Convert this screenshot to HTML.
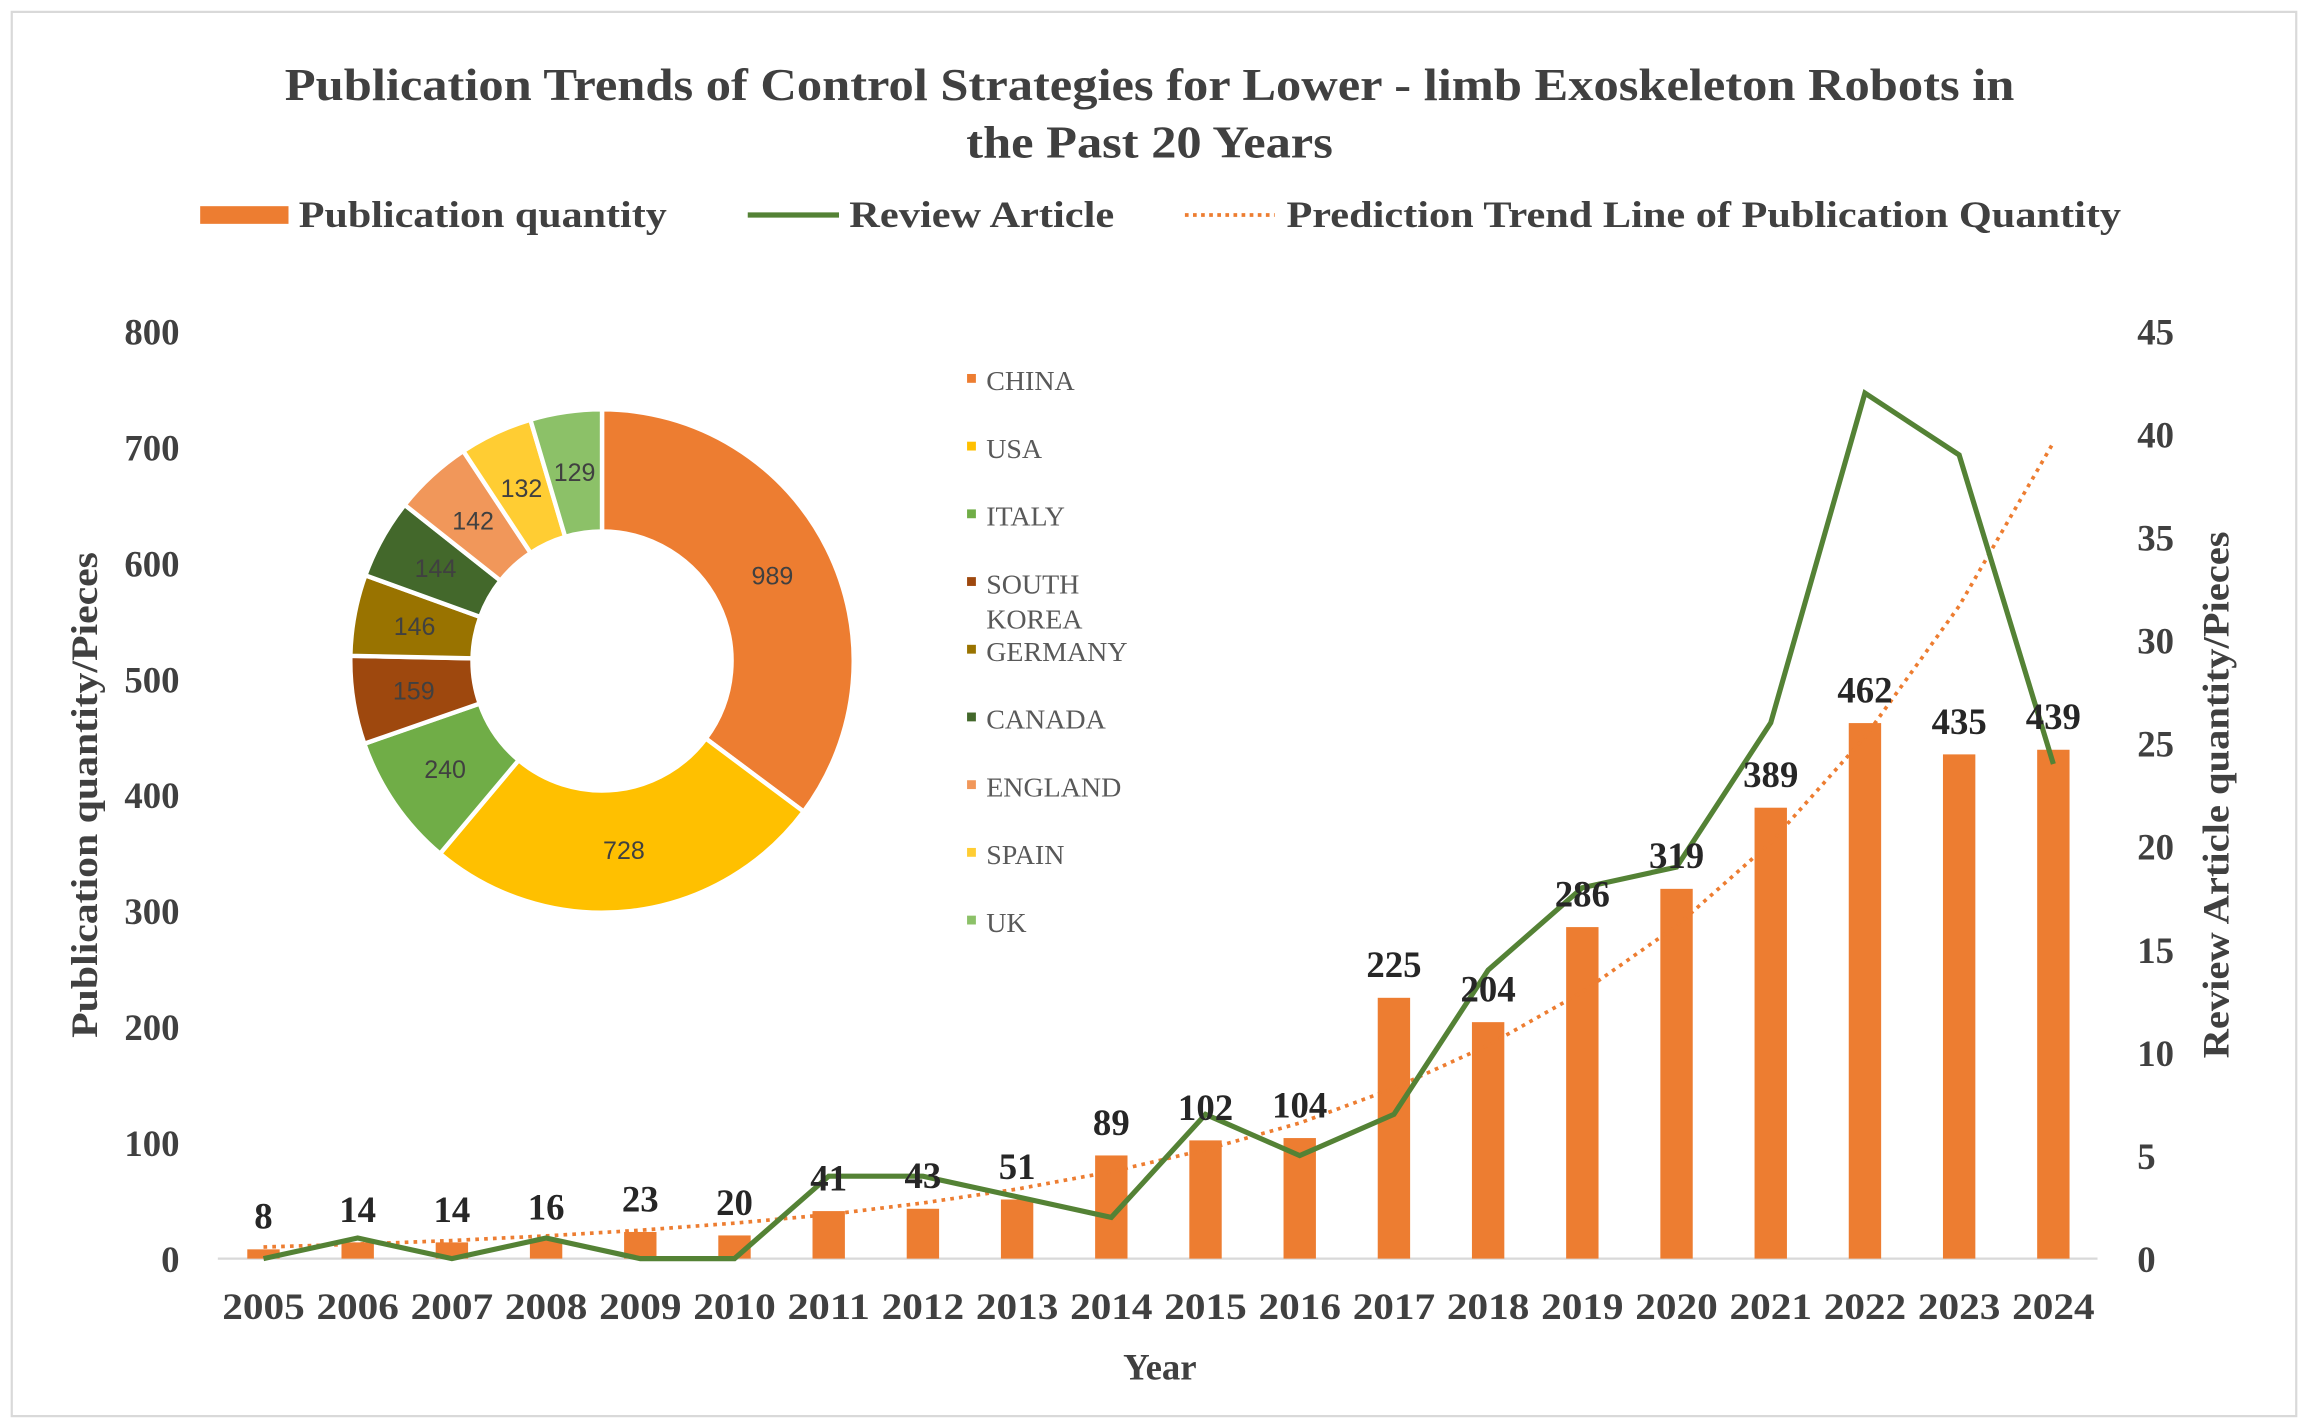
<!DOCTYPE html>
<html><head><meta charset="utf-8"><style>
html,body{margin:0;padding:0;background:#fff;}
svg{display:block;}
text{font-family:"Liberation Serif",serif;}
</style></head><body>
<svg id="chart" width="2308" height="1428" viewBox="0 0 1568 970" xmlns="http://www.w3.org/2000/svg">
<rect x="8" y="8" width="1552" height="954" fill="#fff" stroke="#d9d9d9" stroke-width="1.5"/>
<text x="781" y="68" text-anchor="middle" font-size="31" font-weight="bold" fill="#404040" textLength="1175" lengthAdjust="spacingAndGlyphs">Publication Trends of Control Strategies for Lower - limb Exoskeleton Robots in</text>
<text x="781" y="107" text-anchor="middle" font-size="31" font-weight="bold" fill="#404040" textLength="249" lengthAdjust="spacingAndGlyphs">the Past 20 Years</text>
<g>
<rect x="136" y="140" width="60" height="12" fill="#ED7D31"/>
<text x="203" y="154" font-size="25" font-weight="bold" fill="#404040" textLength="250" lengthAdjust="spacingAndGlyphs">Publication quantity</text>
<line x1="508" y1="146" x2="570" y2="146" stroke="#548235" stroke-width="3.5"/>
<text x="577" y="154" font-size="25" font-weight="bold" fill="#404040" textLength="180" lengthAdjust="spacingAndGlyphs">Review Article</text>
<line x1="805" y1="146" x2="866" y2="146" stroke="#ED7D31" stroke-width="2.5" stroke-dasharray="2.5,3"/>
<text x="874" y="154" font-size="25" font-weight="bold" fill="#404040" textLength="567" lengthAdjust="spacingAndGlyphs">Prediction Trend Line of Publication Quantity</text>
</g>
<g id="axes"></g>
<g id="bars"></g>
<g id="trend"></g>
<g id="line"></g>
<g id="labels"></g>
<g id="donut"></g>
<g id="donutLegend"></g>
<text transform="translate(66,540) rotate(-90)" text-anchor="middle" font-size="25" font-weight="bold" fill="#404040" textLength="330" lengthAdjust="spacingAndGlyphs">Publication quantity/Pieces</text>
<text transform="translate(1514,540) rotate(-90)" text-anchor="middle" font-size="25" font-weight="bold" fill="#404040" textLength="358" lengthAdjust="spacingAndGlyphs">Review Article quantity/Pieces</text>
<text x="788" y="937" text-anchor="middle" font-size="25" font-weight="bold" fill="#404040">Year</text>
</svg>
<script>
const years = ["2005","2006","2007","2008","2009","2010","2011","2012","2013","2014","2015","2016","2017","2018","2019","2020","2021","2022","2023","2024"];
const publications = [8,14,14,16,23,20,41,43,51,89,102,104,225,204,286,319,389,462,435,439];
const reviews = [0,1,0,1,0,0,4,4,3,2,7,5,7,14,18,19,26,42,39,24];
const trendValues = [10,12.5,15.6,19.6,24.5,30.6,38,48,60,75,94,117,147,184,230,287,359,450,563,704];
const leftTicks = [0,100,200,300,400,500,600,700,800];
const rightTicks = [0,5,10,15,20,25,30,35,40,45];
const countries = ["CHINA","USA","ITALY","SOUTH KOREA","GERMANY","CANADA","ENGLAND","SPAIN","UK"];
const countryCounts = [989,728,240,159,146,144,142,132,129];
const countryColors = ["#ED7D31","#FFC000","#70AD47","#9E480E","#997300","#43682B","#F1975A","#FFCD33","#8CC168"];

const NS="http://www.w3.org/2000/svg";
function mk(tag, attrs, parent, txt){const e=document.createElementNS(NS,tag);for(const k in attrs)e.setAttribute(k,attrs[k]);if(txt!==undefined)e.textContent=txt;parent.appendChild(e);return e;}
const x0=179, dx=64, yBase=855, yTop=225;
const xs=i=>x0+i*dx;
const yL=v=>yBase-(v/800)*(yBase-yTop);
const yR=v=>yBase-(v/45)*(yBase-yTop);

const axes=document.getElementById('axes');
let e=mk('line',{x1:148,y1:yBase,x2:1425,y2:yBase,stroke:'#d9d9d9','stroke-width':1.5},axes);


leftTicks.forEach(t=>{
  const el=mk('text',{x:122,y:yL(t)+9,'text-anchor':'end','font-size':25,'font-weight':'bold',fill:'#404040'},axes,String(t));
  
  
});
rightTicks.forEach(t=>{
  const el=mk('text',{x:1452,y:yR(t)+9,'font-size':25,'font-weight':'bold',fill:'#404040'},axes,String(t));
  
  
});
years.forEach((y,i)=>{
  const el=mk('text',{x:xs(i),y:896,'text-anchor':'middle','font-size':25,'font-weight':'bold',fill:'#404040',textLength:56,lengthAdjust:'spacingAndGlyphs'},axes,y);
  
  
});

const bars=document.getElementById('bars');
publications.forEach((v,i)=>{
  const el=mk('rect',{x:xs(i)-11,y:yL(v),width:22,height:yBase-yL(v),fill:'#ED7D31'},bars);
  
  
});

const trend=document.getElementById('trend');
const tp=trendValues.map((v,i)=>xs(i)+','+yL(v)).join(' ');
e=mk('polyline',{points:tp,fill:'none',stroke:'#ED7D31','stroke-width':2.5,'stroke-dasharray':'2.5,3.5'},trend);



const line=document.getElementById('line');
const lp=reviews.map((v,i)=>xs(i)+','+yR(v)).join(' ');
e=mk('polyline',{points:lp,fill:'none',stroke:'#548235','stroke-width':3.5,'stroke-linejoin':'miter'},line);



const labels=document.getElementById('labels');
publications.forEach((v,i)=>{
  const el=mk('text',{x:xs(i),y:yL(v)-14,'text-anchor':'middle','font-size':25,'font-weight':'bold',fill:'#262626'},labels,String(v));
  
  
});

const donut=document.getElementById('donut');
const cx=409, cy=449, R=171, r=88;
const total=countryCounts.reduce((a,b)=>a+b,0);
let ang=0;
countryCounts.forEach((v,i)=>{
  const a0=ang, a1=ang+v/total*2*Math.PI; ang=a1;
  const p=(a,rad)=>[cx+rad*Math.sin(a), cy-rad*Math.cos(a)];
  const [x1,y1]=p(a0,R),[x2,y2]=p(a1,R),[x3,y3]=p(a1,r),[x4,y4]=p(a0,r);
  const lg=(a1-a0)>Math.PI?1:0;
  const d=`M${x1},${y1} A${R},${R} 0 ${lg} 1 ${x2},${y2} L${x3},${y3} A${r},${r} 0 ${lg} 0 ${x4},${y4} Z`;
  const s=mk('path',{d:d,fill:countryColors[i],stroke:'#fff','stroke-width':3},donut);
  
  
  const am=(a0+a1)/2, [lx,ly]=p(am,(R+r)/2);
  const t=mk('text',{x:lx,y:ly+6,'text-anchor':'middle','font-size':17,fill:'#404040',style:'font-family:"Liberation Sans Narrow","Liberation Sans",sans-serif'},donut,String(v));
  
  
});

const dl=document.getElementById('donutLegend');
const legY=[259,305,351,397,443,489,535,581,627];
countries.forEach((c,i)=>{
  const sq=mk('rect',{x:657,y:legY[i]-5,width:6,height:6,fill:countryColors[i]},dl);
  
  
  const t=mk('text',{x:670,y:legY[i]+6,'font-size':19,fill:'#595959'},dl);
  
  
  if(c==="SOUTH KOREA"){
    mk('tspan',{x:670},t,'SOUTH');
    mk('tspan',{x:670,dy:24},t,'KOREA');
  } else t.textContent=c;
});
</script>
</body></html>
